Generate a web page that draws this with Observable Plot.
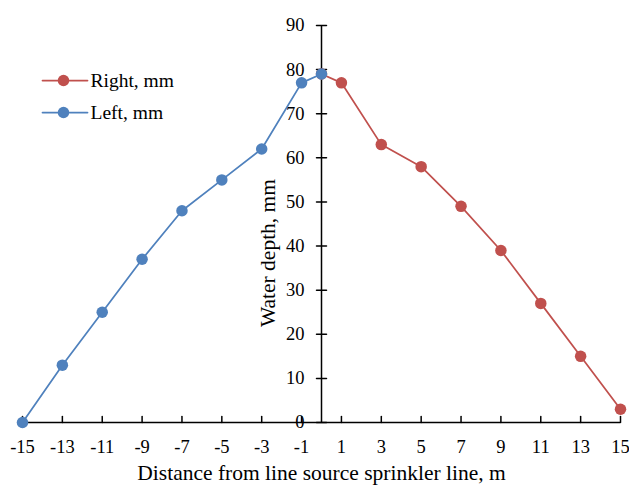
<!DOCTYPE html>
<html>
<head>
<meta charset="utf-8">
<script src="https://cdn.jsdelivr.net/npm/d3@7"></script>
<script src="https://cdn.jsdelivr.net/npm/@observablehq/plot@0.6"></script>
<style>
  body { margin: 0; background: #fff; }
</style>
</head>
<body>
<div id="chart"></div>
<script>
const rightX = [0, 1, 3, 5, 7, 9, 11, 13, 15];
const rightY = [79, 77, 63, 58, 49, 39, 27, 15, 3];
const leftX = [-15, -13, -11, -9, -7, -5, -3, -1, 0];
const leftY = [0, 13, 25, 37, 48, 55, 62, 77, 79];
const xTicks = [-15, -13, -11, -9, -7, -5, -3, -1, 1, 3, 5, 7, 9, 11, 13, 15];
const yTicks = [0, 10, 20, 30, 40, 50, 60, 70, 80, 90];
const seriesNames = ["Right, mm", "Left, mm"];
const colors = ["#C0504D", "#4F81BD"];
const xTitle = "Distance from line source sprinkler line, m";
const yTitle = "Water depth, mm";

const right = rightX.map((x, i) => ({x, y: rightY[i]}));
const left = leftX.map((x, i) => ({x, y: leftY[i]}));

const lineShape = {draw(ctx, l) { ctx.moveTo(0, 0); ctx.lineTo(0, -l); }};
const font = "Liberation Serif, Times New Roman, serif";
const tickFs = 18.5, titleFs = 21.5, legendFs = 19.5;

const chart = Plot.plot({
  width: 629,
  height: 485,
  marginLeft: 22,
  marginRight: 9,
  marginTop: 25,
  marginBottom: 63,
  style: {fontFamily: font, fontSize: "18px", background: "#fff", color: "#000", overflow: "visible"},
  x: {domain: [-15, 15], axis: null},
  y: {domain: [0, 90], axis: null},
  marks: [
    // x axis line and ticks
    Plot.ruleY([0], {stroke: "#000", strokeWidth: 1.5}),
    Plot.vector(xTicks, {x: d => d, y: 0, length: 6, anchor: "start", shape: lineShape, stroke: "#000", strokeWidth: 1.5}),
    Plot.text(xTicks, {x: d => d, y: 0, text: d => String(d), dy: 25, fill: "#000", fontSize: tickFs}),
    // y axis at x = 0
    Plot.ruleX([0], {stroke: "#000", strokeWidth: 1.5}),
    Plot.vector(yTicks, {x: 0, y: d => d, rotate: 90, length: 10, anchor: "middle", shape: lineShape, stroke: "#000", strokeWidth: 1.5}),
    Plot.text(yTicks, {x: 0, y: d => d, text: d => String(d), textAnchor: "end", dx: -17, fill: "#000", fontSize: tickFs}),
    // titles
    Plot.text([xTitle], {frameAnchor: "bottom", lineAnchor: "middle", dy: 51, fill: "#000", fontSize: titleFs}),
    Plot.text([yTitle], {frameAnchor: "middle", lineAnchor: "middle", dx: -53, dy: 29, rotate: -90, fill: "#000", fontSize: titleFs}),
    // series
    Plot.line(right, {x: "x", y: "y", stroke: colors[0], strokeWidth: 1.75}),
    Plot.dot(right, {x: "x", y: "y", fill: colors[0], r: 5.75}),
    Plot.line(left, {x: "x", y: "y", stroke: colors[1], strokeWidth: 1.75}),
    Plot.dot(left, {x: "x", y: "y", fill: colors[1], r: 5.75}),
    // legend
    ...seriesNames.flatMap((name, i) => [
      Plot.vector([name], {frameAnchor: "top-left", dx: 20, dy: 55 + 32 * i, rotate: 90, length: 45, anchor: "start", shape: lineShape, stroke: colors[i], strokeWidth: 1.75}),
      Plot.dot([name], {frameAnchor: "top-left", dx: 41, dy: 55 + 32 * i, r: 5.75, fill: colors[i]}),
      Plot.text([name], {frameAnchor: "top-left", lineAnchor: "middle", dx: 68, dy: 55 + 32 * i, text: d => d, textAnchor: "start", fill: "#000", fontSize: legendFs})
    ])
  ]
});
document.getElementById("chart").appendChild(chart);
</script>
</body>
</html>
